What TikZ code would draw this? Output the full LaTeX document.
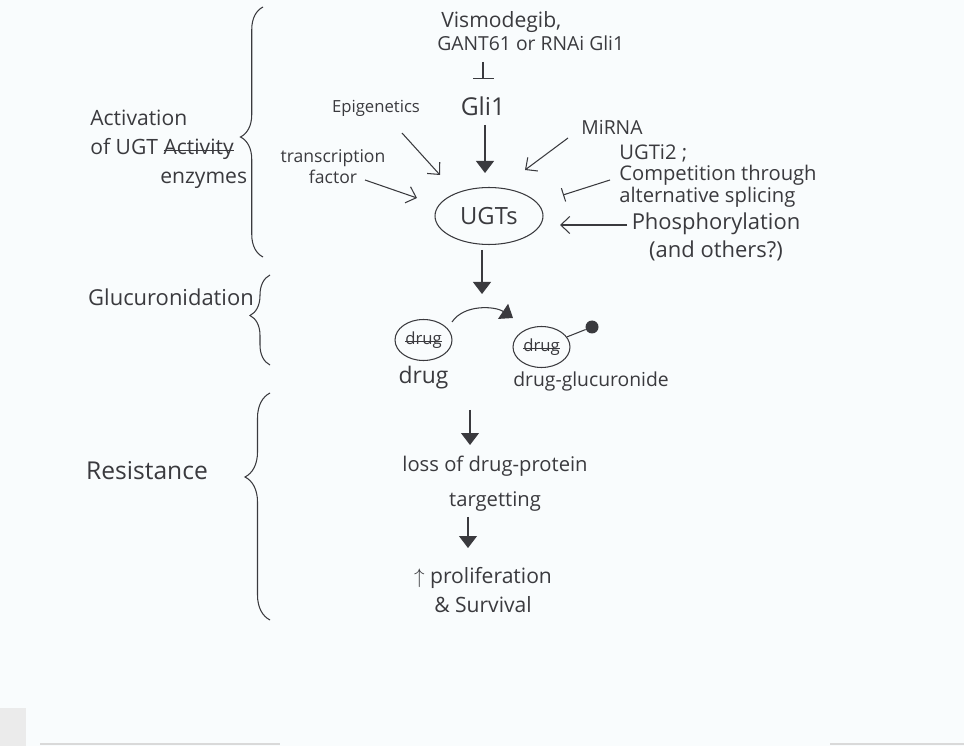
\documentclass[tikz,border=0pt]{standalone}
\usepackage{fontspec}
\setmainfont{Open Sans}
\usetikzlibrary{arrows.meta,calc,positioning,shapes.geometric,decorations.pathreplacing}
\definecolor{inkc}{RGB}{58,58,62}
\definecolor{paper}{RGB}{249,252,253}
\newcommand{\fsz}[2]{\fontsize{#1}{#2}\selectfont}
\newsavebox{\strkbox}
\newcommand{\strk}[1]{\sbox{\strkbox}{#1}\rlap{\raisebox{0.3ex}{\rule{\wd\strkbox}{0.5pt}}}\usebox{\strkbox}}

\begin{document}
\begin{tikzpicture}
   [x=0.02cm,y=-0.02cm,
    lbl/.style={inner sep=0pt,text=inkc,font=\fsz{12}{16}},
    small/.style={lbl,font=\fsz{9.5}{12}},
    big/.style={lbl,font=\fsz{13}{17}},
    line/.style={draw=inkc,line width=0.6pt},
    hd/.style={line,-{Triangle[length=2.4mm,width=3.6mm]}},
    barb/.style={line,-{Straight Barb[length=1.8mm,width=3.4mm]}},
    inh/.style={line,-{Bar[width=#1]}},
    blob/.style={ellipse,draw=inkc,line width=0.6pt,minimum width=1.14cm,
      minimum height=0.82cm,inner sep=0pt,text=inkc},
    brc/.style n args={2}{line,decorate,decoration={brace,amplitude=#1,aspect=#2}}]
\fill[paper] (0,0) rectangle (964,746);
\useasboundingbox (0,0) rectangle (964,746);
\fill[black!8] (0,708) rectangle (26,746);
\draw[black!15,line width=0.8pt] (40,744) -- (280,744) (830,744) -- (964,744);

% left column: stages and braces
\node[lbl,align=left,anchor=west,font=\fsz{12}{16.5}] (act) at (90,149)
  {Activation\\of UGT \strk{Activity}\\\hspace*{1.4cm}enzymes};
\node[big,font=\fsz{12.5}{16}] (glu) at (171,297) {Glucuronidation};
\node[big,font=\fsz{14}{17}] (res) at (147,471) {Resistance};
\draw[brc={0.45cm}{0.48}] (263,257) -- (263,7);
\draw[brc={0.4cm}{0.55}] (270,365) -- (270,275);
\draw[brc={0.5cm}{0.63}] (270,620) -- (270,393);

% Gli1 and its inhibitors
\node[lbl,anchor=west,font=\fsz{12}{14}] (vis) at (441,22) {Vismodegib,};
\node[lbl,anchor=west,font=\fsz{11}{13}] (gant) at (437,43) {GANT61 or RNAi Gli1};
\node[big,font=\fsz{14}{17}] (gli) at (483,106) {Gli1};
\draw[inh=4.2mm] ($(gli)+(0,-44)$) -- ($(gli)+(0,-27)$);

% UGTs and what regulates them
\node[ellipse,draw=inkc,line width=0.6pt,minimum width=2.16cm,minimum height=1.14cm,
  inner sep=0pt,text=inkc,font=\fsz{13.5}{15}] (ugt) at (489,216) {UGTs};
\node[small] (epi) at (376,108) {Epigenetics};
\node[small,font=\fsz{11}{13}] (mir) at (612,127) {MiRNA};
\node[small,align=center,font=\fsz{10}{12}] (tf) at (333,167) {transcription\\factor};
\node[lbl,align=left,anchor=west,font=\fsz{11.5}{12.5}] (ugti) at (619,176)
  {UGTi2 ;\\Competition through\\alternative splicing};
\node[lbl,align=center,font=\fsz{12.5}{15.5}] (phos) at (716,237)
  {Phosphorylation\\(and others?)};
\draw[hd] ($(gli)+(2,19)$) -- ($(ugt)+(-4,-43)$);
\draw[barb] ($(epi)+(26,25)$) -- ($(ugt)+(-49,-41)$);
\draw[barb] ($(mir)+(-44,11)$) -- ($(ugt)+(36,-46)$);
\draw[barb] ($(tf)+(32,13)$) -- ($(ugt)+(-72,-18)$);
\draw[inh=2.8mm] ($(ugti.west)+(-9,4)$) -- ($(ugt)+(74,-21)$);
\draw[barb] ($(phos)+(-89,-12)$) -- ($(ugt)+(71,9)$);

% glucuronidation of the drug
\coordinate (conj) at (482,294);
\draw[hd] ($(ugt)+(-7,34)$) -- (conj);
\node[blob] (d1) at (423.5,340) {\fsz{9.5}{11}\strk{drug}};
\node[blob] (d2) at (541.5,347) {\fsz{9.5}{11}\strk{drug}};
\node[big] (dl) [below=1mm of d1] {drug};
\node[lbl,font=\fsz{11}{13},anchor=north west] (dgl) at (513,371) {drug-glucuronide};
\node[circle,fill=inkc,inner sep=0pt,minimum size=2.6mm] (gc) at (592,327) {};
\draw[line] (d2) -- (gc);
\draw[hd] ($(d1)+(28.5,-18)$) .. controls +(12,-18) and +(-18,-12) .. ($(d2)+(-28.5,-29)$);

% resistance
\node[lbl,align=center,font=\fsz{11.5}{20}] (loss) at (495,484) {loss of drug-protein\\targetting};
\node[lbl,align=center,font=\fsz{12}{16}] (prolif) at (483,590) {$\uparrow$ proliferation\\\& Survival};
\draw[hd] ($(loss)+(-25,-74)$) -- ($(loss)+(-25,-39)$);
\draw[hd] ($(loss)+(-27,33)$) -- ($(prolif)+(-15,-42)$);
\end{tikzpicture}
\end{document}
